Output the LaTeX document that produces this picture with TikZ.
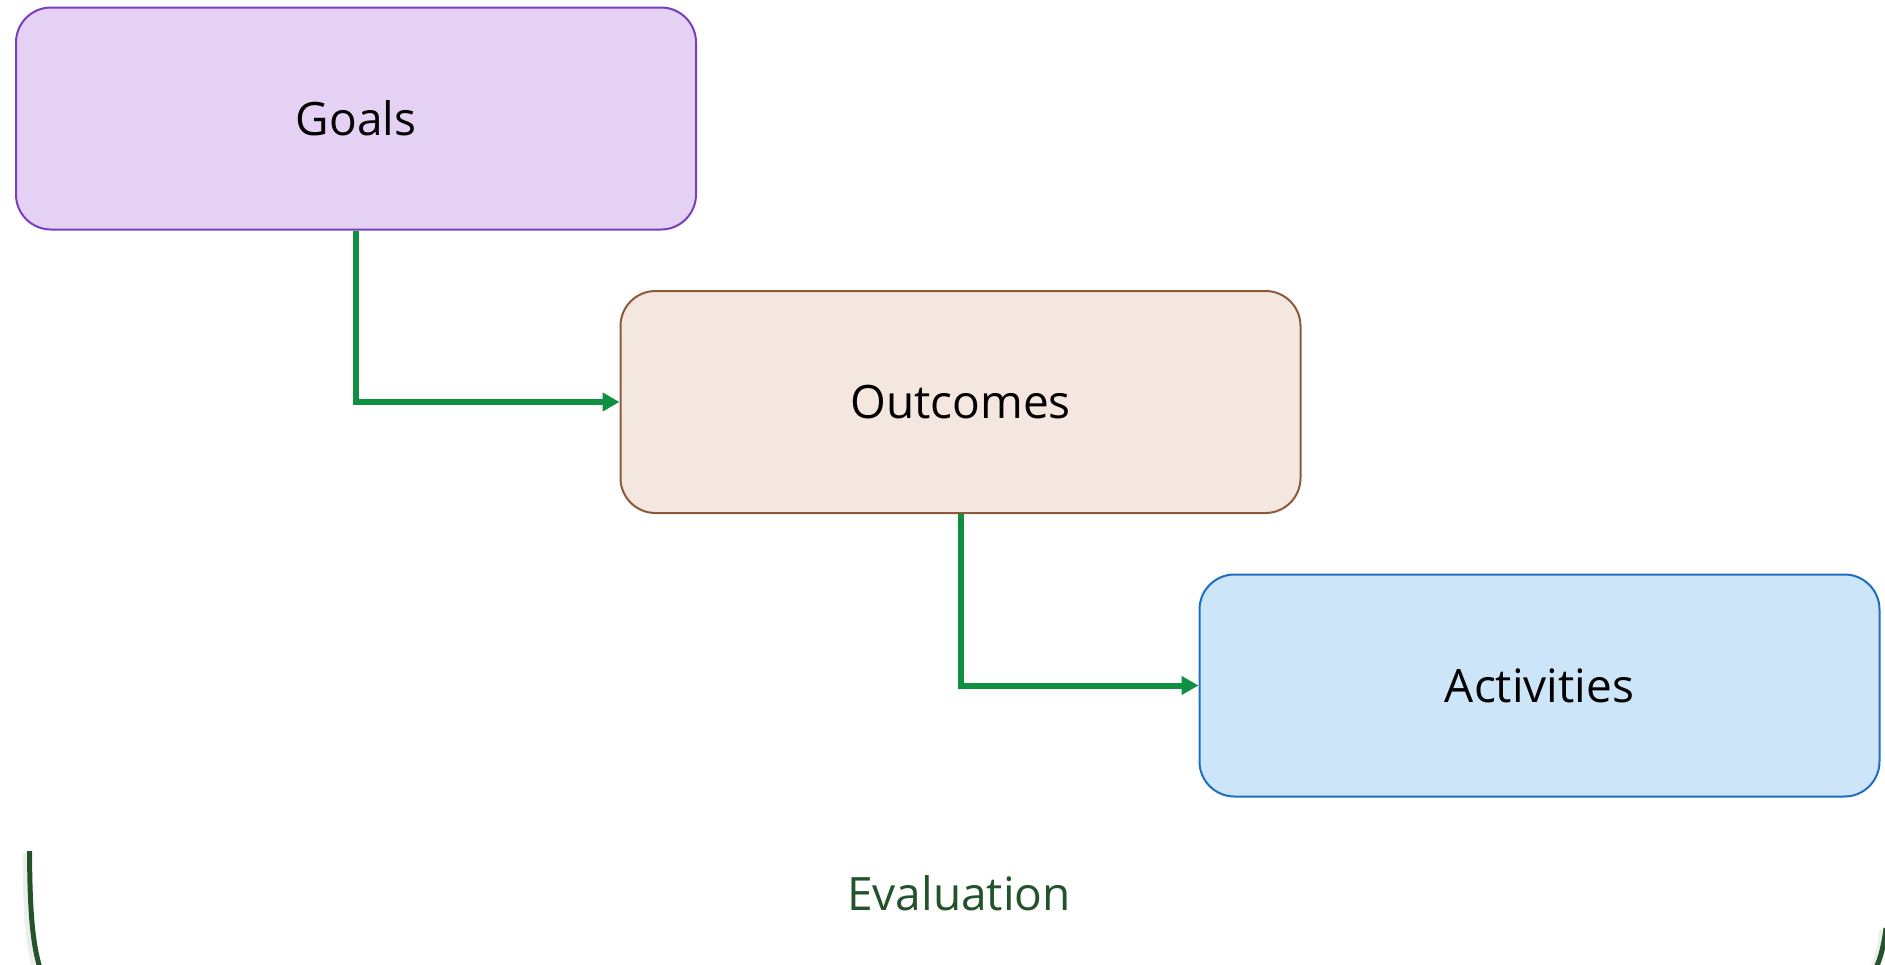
\documentclass[tikz,border=0pt]{standalone}
\usepackage{fontspec}
\setmainfont{Open Sans}
\usetikzlibrary{arrows.meta}
\definecolor{goalfill}{HTML}{E4D1F4}
\definecolor{goalline}{HTML}{7A3DC0}
\definecolor{outfill}{HTML}{F4E7E0}
\definecolor{outline}{HTML}{8C5A3A}
\definecolor{actfill}{HTML}{CCE5F8}
\definecolor{actline}{HTML}{1F6FC0}
\definecolor{flowgreen}{HTML}{0E9040}
\definecolor{evalgreen}{HTML}{23532A}
\begin{document}
\begin{tikzpicture}[x=1pt,y=-1pt,
  stage/.style={draw, line width=2pt, rounded corners=35pt,
    minimum width=680pt, minimum height=222pt,
    font=\fontsize{46}{55}\selectfont, text=black},
  flow/.style={draw=flowgreen, line width=6pt,
    -{Triangle[length=17pt,width=18pt]}}
]
\useasboundingbox (0,0) rectangle (1885,964);
\clip (0,0) rectangle (1885,964);

% the three stages
\node[stage, fill=goalfill, draw=goalline] (goals) at (356,118.5) {Goals};
\node[stage, fill=outfill, draw=outline] (outcomes) at (960.5,402) {Outcomes};
\node[stage, fill=actfill, draw=actline] (activities) at (1539.5,685.5) {Activities};

% flow between stages
\draw[flow] (goals.south) |- (outcomes.west);
\draw[flow] (outcomes.south) |- (activities.west);

% evaluation bracket with a soft shadow
\coordinate (brtop) at (29.5,851);
\draw[black, opacity=0.07, line width=9pt]
  (27,853) .. controls (27.5,925) and (30.5,962) .. (46.5,992) -- (1856,992)
  .. controls (1872,980) and (1880,962) .. (1884,930);
\draw[evalgreen, line width=5pt]
  (brtop) .. controls (30,922) and (33,960) .. (49,990) -- (1859,990)
  .. controls (1874,978) and (1882,960) .. (1886,928);

% evaluation label
\node[text=evalgreen, font=\fontsize{46}{55}\selectfont] (evaluation) at (959,893) {Evaluation};
\end{tikzpicture}
\end{document}
